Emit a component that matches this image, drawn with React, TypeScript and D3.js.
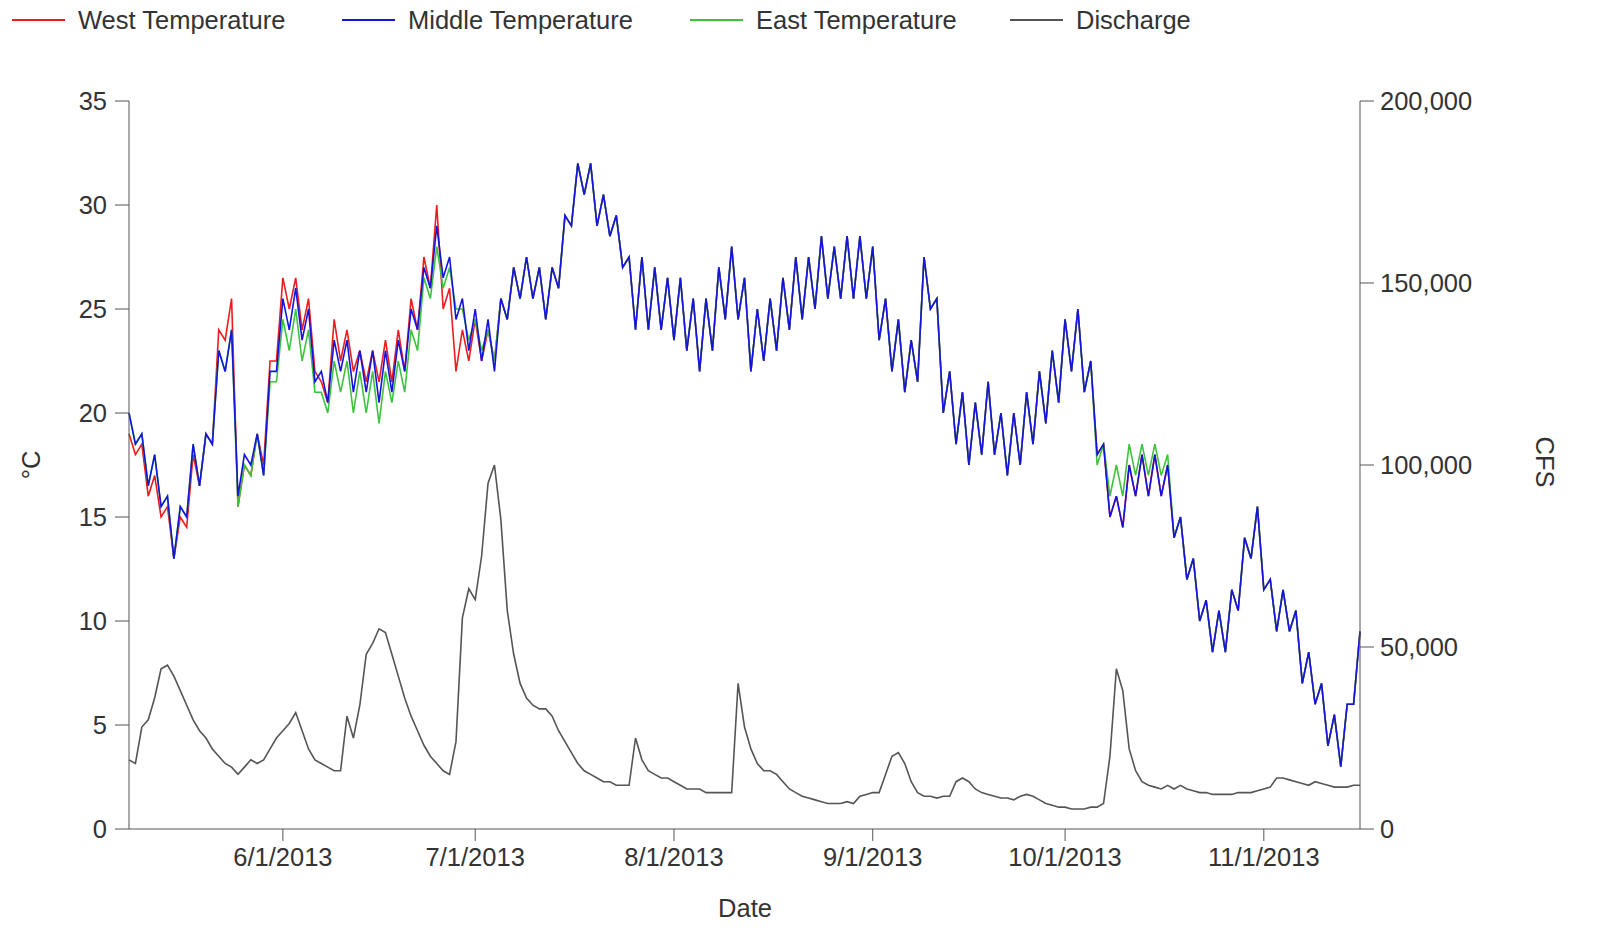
import * as d3 from "d3";

// one value per day from 5/8/2013, alternating daytime highs and night lows
const middleTemp = [
  20, 18.5, 19, 16.5, 18, 15.5, 16, 13, 15.5, 15,
  18.5, 16.5, 19, 18.5, 23, 22, 24, 16, 18, 17.5,
  19, 17, 22, 22, 25.5, 24, 26, 23.5, 25, 21.5,
  22, 20.5, 23.5, 22, 23.5, 21, 23, 21, 23, 20.5,
  23, 21, 23.5, 22, 25, 24, 27, 26, 29, 26.5,
  27.5, 24.5, 25.5, 23, 25, 22.5, 24.5, 22, 25.5, 24.5,
  27, 25.5, 27.5, 25.5, 27, 24.5, 27, 26, 29.5, 29,
  32, 30.5, 32, 29, 30.5, 28.5, 29.5, 27,
  27.5, 24, 27.5, 24, 27, 24, 26.5, 23.5, 26.5, 23, 25.5, 22,
  25.5, 23, 27, 24.5, 28, 24.5, 26.5, 22, 25, 22.5,
  25.5, 23, 26.5, 24, 27.5, 24.5, 27.5, 25, 28.5, 25.5,
  28, 25.5, 28.5, 25.5, 28.5, 25.5, 28, 23.5, 25.5, 22,
  24.5, 21, 23.5, 21.5, 27.5, 25, 25.5, 20, 22, 18.5,
  21, 17.5, 20.5, 18, 21.5, 18, 20, 17, 20, 17.5,
  21, 18.5, 22, 19.5, 23, 20.5, 24.5, 22, 25, 21, 22.5,
  18, 18.5, 15, 16, 14.5, 17.5, 16, 18, 16, 18,
  16, 17.5, 14, 15, 12, 13, 10, 11, 8.5, 10.5,
  8.5, 11.5, 10.5, 14, 13, 15.5, 11.5, 12, 9.5, 11.5,
  9.5, 10.5, 7, 8.5, 6, 7, 4, 5.5, 3, 6, 6, 9.5,
];

const westEarly = [
  19, 18, 18.5, 16, 17, 15, 15.5, 13, 15, 14.5,
  18, 16.5, 19, 18.5, 24, 23.5, 25.5, 15.5, 17.5, 17,
  19, 17.5, 22.5, 22.5, 26.5, 25, 26.5, 24, 25.5, 22,
  21.5, 20.5, 24.5, 22.5, 24, 22, 23, 21.5, 23, 21.5,
  23.5, 21.5, 24, 22, 25.5, 24, 27.5, 26, 30, 25,
  26, 22, 24, 22.5, 24.5, 22.5, 24, 22.5, 25.5, 24.5,
  27, 25.5, 27.5, 25.5, 27, 24.5, 27, 26, 29.5, 29,
];
const westTemp = [...westEarly, ...middleTemp.slice(westEarly.length)];

const eastJuneJuly = [
  15.5, 17.5, 17, 19, 17, 21.5, 21.5,
  24.5, 23, 25, 22.5, 24, 21, 21, 20, 22.5, 21,
  22.5, 20, 22, 20, 22, 19.5, 22, 20.5, 22.5, 21, 24, 23,
  26.5, 25.5, 28, 26, 27, 25, 25, 23.5, 24.5, 23, 24, 22.5,
];
const eastOctober = [17.5, 18.5, 16, 17.5, 16, 18.5, 17, 18.5, 17, 18.5, 17, 18];
const eastTemp = [
  ...middleTemp.slice(0, 17),
  ...eastJuneJuly,
  ...middleTemp.slice(58, 151),
  ...eastOctober,
  ...middleTemp.slice(163),
];

const discharge = [
  19000, 18000, 28000, 30000, 36000, 44000, 45000, 42000, 38000, 34000,
  30000, 27000, 25000, 22000, 20000, 18000, 17000, 15000, 17000, 19000,
  18000, 19000, 22000, 25000, 27000, 29000, 32000, 27000, 22000, 19000,
  18000, 17000, 16000, 16000, 31000, 25000, 34000, 48000, 51000, 55000,
  54000, 48000, 42000, 36000, 31000, 27000, 23000, 20000, 18000, 16000,
  15000, 24000, 58000, 66000, 63000, 75000, 95000, 100000, 85000, 60000,
  48000, 40000, 36000, 34000, 33000, 33000, 31000, 27000, 24000, 21000,
  18000, 16000, 15000, 14000, 13000, 13000, 12000, 12000, 12000, 25000,
  19000, 16000, 15000, 14000, 14000, 13000, 12000, 11000, 11000, 11000,
  10000, 10000, 10000, 10000, 10000, 40000, 28000, 22000, 18000, 16000,
  16000, 15000, 13000, 11000, 10000, 9000, 8500, 8000, 7500, 7000,
  7000, 7000, 7500, 7000, 9000, 9500, 10000, 10000, 15000, 20000,
  21000, 18000, 13000, 10000, 9000, 9000, 8500, 9000, 9000, 13000,
  14000, 13000, 11000, 10000, 9500, 9000, 8500, 8500, 8000, 9000,
  9500, 9000, 8000, 7000, 6500, 6000, 6000, 5500, 5500, 5500,
  6000, 6000, 7000, 20000, 44000, 38000, 22000, 16000, 13000, 12000,
  11500, 11000, 12000, 11000, 12000, 11000, 10500, 10000, 10000, 9500,
  9500, 9500, 9500, 10000, 10000, 10000, 10500, 11000, 11500, 14000,
  14000, 13500, 13000, 12500, 12000, 13000, 12500, 12000, 11500, 11500,
  11500, 12000, 12000,
];

const startDate = new Date(2013, 4, 8);
const tempTicks = [0, 5, 10, 15, 20, 25, 30, 35];
const cfsTicks = [0, 50000, 100000, 150000, 200000];
const dateTicks = [5, 6, 7, 8, 9, 10].map((m) => new Date(2013, m, 1));

// drawn back to front
const series = [
  { name: "West Temperature", color: "#ee1c1c", values: westTemp },
  { name: "East Temperature", color: "#3cc43c", values: eastTemp },
  { name: "Middle Temperature", color: "#1414dc", values: middleTemp },
];

const W = 1614;
const H = 950;
const left = 129;
const right = 1360;
const top = 101;
const bottom = 829;
const font = "'Liberation Sans', Arial, sans-serif";
const textColor = "#333";
const fs = 25.5;

export default function App() {
  const day = (i: number) => d3.timeDay.offset(startDate, i);
  const x = d3.scaleTime().domain([day(0), day(discharge.length - 1)]).range([left, right]);
  const yT = d3.scaleLinear().domain([0, 35]).range([bottom, top]);
  const yQ = d3.scaleLinear().domain([0, 200000]).range([bottom, top]);

  const tLine = d3.line<number>().x((_, i) => x(day(i))).y((v) => yT(v));
  const qLine = d3.line<number>().x((_, i) => x(day(i))).y((v) => yQ(v));

  const legend = [
    { name: "West Temperature", color: "#ee1c1c", x: 12 },
    { name: "Middle Temperature", color: "#1414dc", x: 342 },
    { name: "East Temperature", color: "#3cc43c", x: 690 },
    { name: "Discharge", color: "#555", x: 1010 },
  ];

  return (
    <svg width={W} height={H} style={{ position: "absolute", left: 0, top: 0 }} fontFamily={font}>
      <rect width={W} height={H} fill="#fff" />
      {legend.map((l) => (
        <g key={l.name}>
          <line x1={l.x} x2={l.x + 53} y1={20} y2={20} stroke={l.color} strokeWidth={2} />
          <text x={l.x + 66} y={29} fontSize={fs} fill={textColor}>{l.name}</text>
        </g>
      ))}

      <path d={qLine(discharge) ?? ""} fill="none" stroke="#555" strokeWidth={1.6} />
      {series.map((s) => (
        <path key={s.name} d={tLine(s.values) ?? ""} fill="none" stroke={s.color} strokeWidth={1.6} />
      ))}

      <g stroke="#555" strokeWidth={1}>
        <line x1={left} x2={left} y1={top} y2={bottom} />
        <line x1={right} x2={right} y1={top} y2={bottom} />
        <line x1={left} x2={right} y1={bottom} y2={bottom} />
      </g>
      {tempTicks.map((t) => (
        <g key={t}>
          <line x1={left - 14} x2={left} y1={yT(t)} y2={yT(t)} stroke="#555" />
          <text x={left - 22} y={yT(t) + 9} textAnchor="end" fontSize={fs} fill={textColor}>{t}</text>
        </g>
      ))}
      {cfsTicks.map((t) => (
        <g key={t}>
          <line x1={right} x2={right + 14} y1={yQ(t)} y2={yQ(t)} stroke="#555" />
          <text x={right + 20} y={yQ(t) + 9} fontSize={fs} fill={textColor}>{d3.format(",")(t)}</text>
        </g>
      ))}
      {dateTicks.map((d) => (
        <g key={d.getTime()}>
          <line x1={x(d)} x2={x(d)} y1={bottom} y2={bottom + 12} stroke="#555" />
          <text x={x(d)} y={bottom + 37} textAnchor="middle" fontSize={fs} fill={textColor}>
            {d3.timeFormat("%-m/%-d/%Y")(d)}
          </text>
        </g>
      ))}
      <text x={745} y={917} textAnchor="middle" fontSize={fs} fill={textColor}>Date</text>
      <text transform="translate(40,465) rotate(-90)" textAnchor="middle" fontSize={fs} fill={textColor}>°C</text>
      <text transform="translate(1536,462) rotate(90)" textAnchor="middle" fontSize={fs} fill={textColor}>CFS</text>
    </svg>
  );
}
